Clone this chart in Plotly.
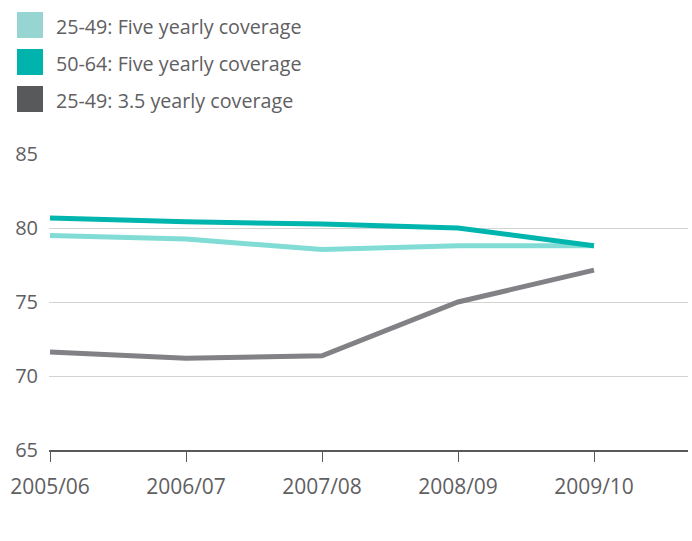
import plotly.graph_objects as go

categories = ["2005/06", "2006/07", "2007/08", "2008/09", "2009/10"]
five_25_49 = [79.5, 79.25, 78.55, 78.8, 78.8]
five_50_64 = [80.68, 80.42, 80.27, 80.0, 78.8]
three5_25_49 = [71.62, 71.2, 71.37, 75.0, 77.15]
y_ticks = [65, 70, 75, 80, 85]

series = [
    ("25-49: Five yearly coverage", five_25_49, "#80dcd5", "#97d5d2"),
    ("50-64: Five yearly coverage", five_50_64, "#00b5ad", "#00b3ac"),
    ("25-49: 3.5 yearly coverage", three5_25_49, "#818186", "#58595b"),
]

FONT = "Open Sans"
TXT = "#5f6062"

fig = go.Figure()
xs = list(range(len(categories)))
for name, vals, lc, _ in series:
    fig.add_trace(go.Scatter(x=xs, y=vals, mode="lines", name=name,
                             line=dict(color=lc, width=5), showlegend=False))

# legend drawn as squares + text
legend_y = [25, 62, 99]
for (name, _, _, sc), cy in zip(series, legend_y):
    fig.add_shape(type="rect", xref="paper", yref="paper",
                  x0=(17 - 49) / 639, x1=(43 - 49) / 639,
                  y0=(450 - (cy - 13)) / 296, y1=(450 - (cy + 13)) / 296,
                  fillcolor=sc, line_width=0)
    fig.add_annotation(text=name, xref="paper", yref="paper",
                       x=(54 - 49) / 639, y=(450 - cy - 1) / 296,
                       xanchor="left", yanchor="middle", showarrow=False,
                       font=dict(family=FONT, size=19.7, color=TXT))

fig.update_layout(
    width=692, height=541,
    margin=dict(l=49, r=4, t=154, b=91),
    paper_bgcolor="white", plot_bgcolor="white",
    showlegend=False,
    font=dict(family=FONT, size=20, color=TXT),
)
fig.update_xaxes(
    tickmode="array", tickvals=xs, ticktext=categories,
    range=[-1 / 136, 638 / 136],
    showgrid=False, zeroline=False,
    showline=True, linecolor="#58595b", linewidth=2,
    ticks="outside", ticklen=10, tickwidth=1, tickcolor="#58595b",
    ticklabelstandoff=7, tickfont=dict(size=21),
)
fig.update_yaxes(
    range=[65, 85], tickmode="array", tickvals=y_ticks,
    showgrid=True, gridcolor="#d3d3d3", gridwidth=1,
    zeroline=False, showline=False, ticks="",
    ticklabelstandoff=10,
)

fig.write_html("out.html")
